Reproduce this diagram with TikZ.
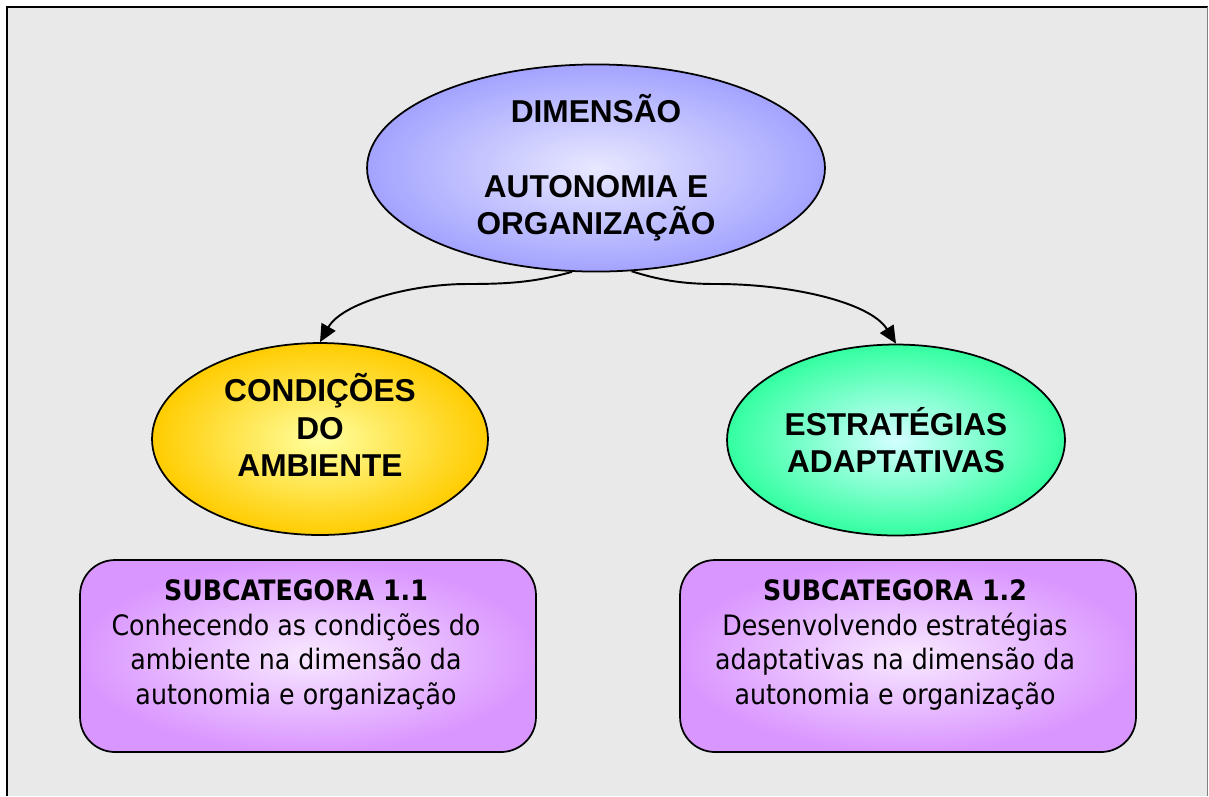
\documentclass[tikz,border=0pt]{standalone}
\usepackage{fontspec}
\setmainfont{Liberation Sans}
\newfontfamily\tahomafont[FakeStretch=0.9]{DejaVu Sans}
\usetikzlibrary{shapes.geometric, arrows.meta}

\definecolor{fundo}{RGB}{233,233,233}
\definecolor{azul}{RGB}{163,163,255}
\definecolor{azulclaro}{RGB}{232,232,255}
\definecolor{amarelo}{RGB}{255,204,0}
\definecolor{amareloclaro}{RGB}{255,255,160}
\definecolor{verde}{RGB}{51,255,160}
\definecolor{verdeclaro}{RGB}{210,255,255}
\definecolor{lilas}{RGB}{218,150,255}
\definecolor{lilasclaro}{RGB}{248,232,255}

\begin{document}
\begin{tikzpicture}[x=0.02cm, y=-0.02cm,
        elipse/.style={ellipse, draw, line width=1pt, inner sep=0pt, align=center,
            font=\fontsize{18}{21.2}\selectfont\bfseries},
        caixa/.style={draw, line width=1pt, rounded corners=0.7cm, inner color=lilasclaro,
            outer color=lilas, minimum width=9.12cm, minimum height=3.84cm},
        texto/.style={inner sep=0pt, align=center, font=\tahomafont\fontsize{16}{19.8}\selectfont},
        seta/.style={line width=1.1pt, -{Triangle[length=10pt,width=9pt]}}]
    \useasboundingbox (0,0) rectangle (1209,796);
    \fill[fundo] (7,7) rectangle (1208,796);
    \draw[line width=1.2pt] (7,796) -- (7,7) -- (1208,7);
    \draw[gray, line width=0.6pt] (1207.5,7) -- (1207.5,796);

    \node[elipse, inner color=azulclaro, outer color=azul, minimum width=9.16cm, minimum height=4.08cm]
        (dim) at (596,168) {DIMENSÃO\\[21.2pt]AUTONOMIA E\\ORGANIZAÇÃO};
    \node[elipse, inner color=amareloclaro, outer color=amarelo, minimum width=6.72cm, minimum height=3.84cm]
        (cond) at (320,439) {\smash{CONDIÇÕES}\\DO\\AMBIENTE};
    \node[elipse, inner color=verdeclaro, outer color=verde, minimum width=6.76cm, minimum height=3.82cm]
        (estr) at (896,440) {ESTRATÉGIAS\\ADAPTATIVAS};

    \draw[seta] (dim.257) .. controls (535,282) and (510,284) .. (467,284)
        .. controls (410,284) and (342,303) .. (cond.north);
    \draw[seta] (dim.289) .. controls (665,282) and (690,284) .. (717,284)
        .. controls (790,284) and (870,302) .. (estr.north);

    \node[caixa] (sub1) at (308,656) {};
    \node[texto] (sub1txt) at (296,645) {\textbf{SUBCATEGORA 1.1}\\Conhecendo as condições do\\ambiente na dimensão da\\autonomia e organização};
    \node[caixa] (sub2) at (908,656) {};
    \node[texto] (sub2txt) at (895,645) {\textbf{SUBCATEGORA 1.2}\\Desenvolvendo estratégias\\adaptativas na dimensão da\\autonomia e organização};
\end{tikzpicture}
\end{document}
